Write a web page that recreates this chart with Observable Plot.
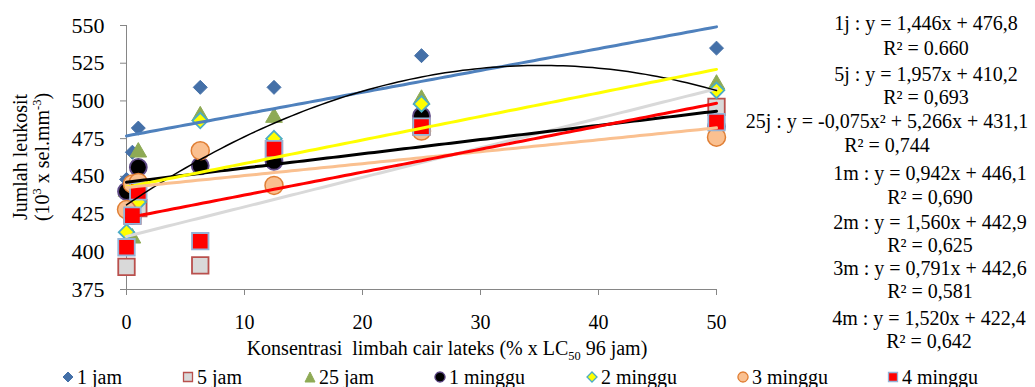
<!DOCTYPE html>
<html><head><meta charset="utf-8">
<script src="https://cdn.jsdelivr.net/npm/d3@7"></script>
<script src="https://cdn.jsdelivr.net/npm/@observablehq/plot@0.6"></script>
<style>
body{margin:0;background:#fff;font-family:"Liberation Serif","Times New Roman",serif;color:#000;}
#wrap{position:relative;width:1035px;height:387px;overflow:hidden;background:#fff;}
#wrap > svg{position:absolute;left:0;top:0;}
.ov{position:absolute;font-size:20px;white-space:nowrap;line-height:24px;}
.eq{text-align:center;transform:translate(-50%,-50%);}
sup,sub{font-size:0.62em;line-height:0;}
.leg{position:absolute;top:366px;height:22px;display:flex;align-items:center;font-size:20px;white-space:nowrap;}
#wrap .leg svg{position:static;margin-right:3px;display:block;}
</style></head><body><div id="wrap"></div>
<script>
// ---- data ----
const xVals = [0, 0.5, 1, 6.25, 12.5, 25, 50];
const xTicks = [0, 10, 20, 30, 40, 50];
const yTicks = [375, 400, 425, 450, 475, 500, 525, 550];
const seriesNames = ["1 jam", "5 jam", "25 jam", "1 minggu", "2 minggu", "3 minggu", "4 minggu"];
const jam1    = [448, 466, 482, 509, 509, 530, 535];
const jam5    = [390, 424, 429, 391, 468, 483, 496];
const jam25   = [440, 409, 466, 490, 489, 501, 511];
const minggu1 = [440, 424, 456, 457, 460, 490, 483];
const minggu2 = [413, 424, 433, 487, 475, 498, 507];
const minggu3 = [428, 445, 446, 467, 444, 480, 476];
const minggu4 = [403, 424, 440, 407, 468, 483, 486];
// trendline coefficients y = a x^2 + b x + c (from the chart labels)
const coefA = [0, 0, -0.075, 0, 0, 0, 0];
const coefB = [1.446, 1.957, 5.266, 0.942, 1.560, 0.791, 1.520];
const coefC = [476.8, 410.2, 431.1, 446.1, 442.9, 442.6, 422.4];
const eqLabels = ["1j : y = 1,446x + 476,8", "5j : y = 1,957x + 410,2", "25j : y = -0,075x² + 5,266x + 431,1",
  "1m : y = 0,942x + 446,1", "2m : y = 1,560x + 442,9", "3m : y = 0,791x + 442,6", "4m : y = 1,520x + 422,4"];
const r2Labels = ["R² = 0.660", "R² = 0,693", "R² = 0,744", "R² = 0,690", "R² = 0,625", "R² = 0,581", "R² = 0,642"];
const xTitle = "Konsentrasi\u00a0 limbah cair lateks (% x LC<sub>50</sub> 96 jam)";
const yTitle = ["Jumlah leukosit", "(10<sup>3</sup> x sel.mm<sup>-3</sup>)"];

// ---- styles / layout ----
const allValues = [jam1, jam5, jam25, minggu1, minggu2, minggu3, minggu4];
const styles = [
  {symbol: "diamond2", r: 6.3, fill: "#4470A8", stroke: "#4470A8", sw: 1, line: "#4F81BD", lw: 3},
  {symbol: "square", r: 9.3, fill: "#D9D9D9", stroke: "#B9504D", sw: 1.8, line: "#D9D9D9", lw: 3},
  {symbol: "triangle", r: 6.2, fill: "#8EAA55", stroke: "#8EAA55", sw: 1, line: "#000", lw: 1.5},
  {symbol: "circle", r: 8.5, fill: "#000", stroke: "#5F4A87", sw: 1.8, line: "#000", lw: 3},
  {symbol: "diamond2", r: 7, fill: "#FFFF00", stroke: "#4BACC6", sw: 1.8, line: "#FFFF00", lw: 3},
  {symbol: "circle", r: 9, fill: "#FAC090", stroke: "#E07F35", sw: 1.5, line: "#FAC090", lw: 3},
  {symbol: "square", r: 9.3, fill: "#FF0000", stroke: "#95B3D7", sw: 1.8, line: "#FF0000", lw: 3}
];
const eqPos = [[926, 23, 48], [926, 74, 97], [887, 121, 145], [930, 173, 197], [930, 222, 245], [930, 268, 291], [929, 318, 341]];
const legendPos = [62, 182, 304, 434, 586, 737, 887];

const points = allValues.map(vals => vals.map((v, i) => ({x: xVals[i], y: v})));
const trend = coefA.map((a, k) => d3.range(0, 50.001, 0.5).map(x => ({x, y: a * x * x + coefB[k] * x + coefC[k]})));

const marks = [
  Plot.axisY({ticks: yTicks, tickSize: 6, tickPadding: 16, stroke: "#868686", label: null, fontSize: 22}),
  Plot.axisX({ticks: xTicks, tickSize: 6, tickPadding: 19, stroke: "#868686", label: null}),
  Plot.ruleX([0], {stroke: "#868686"}),
  Plot.ruleY([375], {stroke: "#868686"})
];
points.forEach((pts, k) => {
  const s = styles[k];
  marks.push(Plot.dot(pts, {x: "x", y: "y", symbol: s.symbol, r: s.r, fill: s.fill, stroke: s.stroke, strokeWidth: s.sw}));
});
trend.forEach((pts, k) => {
  const s = styles[k];
  marks.push(Plot.line(pts, {x: "x", y: "y", stroke: s.line, strokeWidth: s.lw, curve: "linear"}));
});

const chart = Plot.plot({
  width: 1035, height: 365,
  marginLeft: 126, marginRight: 319, marginTop: 25, marginBottom: 76,
  x: {domain: [0, 50]},
  y: {domain: [375, 550]},
  style: {fontFamily: "'Liberation Serif', 'Times New Roman', serif", fontSize: "20px", color: "#000", background: "#fff"},
  marks
});
const wrap = document.getElementById("wrap");
wrap.appendChild(chart);

// axis titles
const yt = document.createElement("div");
yt.className = "ov";
yt.style.cssText = "left:31px;top:157px;transform:translate(-50%,-50%) rotate(-90deg);text-align:center;line-height:22px;";
yt.innerHTML = yTitle.join("<br>");
wrap.appendChild(yt);
const xt = document.createElement("div");
xt.className = "ov";
xt.style.cssText = "left:447px;top:348px;transform:translate(-50%,-50%);";
xt.innerHTML = xTitle;
wrap.appendChild(xt);

// trendline labels
eqLabels.forEach((t, k) => {
  const [cx, y1, y2] = eqPos[k];
  const a = document.createElement("div");
  a.className = "ov eq"; a.style.left = cx + "px"; a.style.top = y1 + "px"; a.textContent = t;
  const b = document.createElement("div");
  b.className = "ov eq"; b.style.left = cx + "px"; b.style.top = y2 + "px"; b.textContent = r2Labels[k];
  wrap.appendChild(a); wrap.appendChild(b);
});

// legend
const symPath = {
  diamond2: "M6,1L11,6L6,11L1,6Z",
  square: "M1.5,1.5H10.5V10.5H1.5Z",
  triangle: "M6,1L11,11H1Z",
  circle: "M6,1A5,5 0 1,1 5.99,1Z"
};
seriesNames.forEach((name, k) => {
  const s = styles[k];
  const d = document.createElement("div");
  d.className = "leg"; d.style.left = legendPos[k] + "px";
  d.innerHTML = `<svg width="12" height="12" viewBox="0 0 12 12"><path d="${symPath[s.symbol]}" fill="${s.fill}" stroke="${s.stroke}" stroke-width="${Math.min(s.sw, 1.3)}"/></svg><span>${name}</span>`;
  wrap.appendChild(d);
});
</script></body></html>
